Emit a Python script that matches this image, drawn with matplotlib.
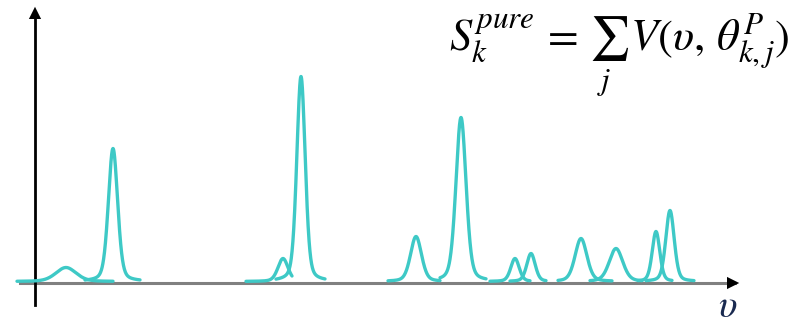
import numpy as np
import matplotlib.pyplot as plt

# Peak data (position on the wavenumber axis, height, width, drawn range)
centers = [66, 113, 283, 301, 416, 461, 515, 531, 581, 616, 656, 670]
heights = [14, 133, 23, 205, 45, 164, 23, 28, 43, 33, 50, 71]
widths = [24, 11, 12, 10, 13, 12, 10, 10, 14, 16, 9, 10]
left_ends = [17, 85, 246, 276, 388, 440, 490, 510, 558, 590, 638, 646]
right_ends = [113, 140, 292, 325, 440, 486, 530, 546, 612, 642, 672, 694]

formula = r'$S_k^{pure}\,=\,\sum_j\, V(\upsilon,\,\theta_{k,j}^P)$'
x_label = r'$\upsilon$'

plt.rcParams['mathtext.fontset'] = 'stix'

fig = plt.figure(figsize=(8.0, 3.26), dpi=100, facecolor='white')
ax = fig.add_axes([0, 0, 1, 1])
ax.set_xlim(0, 800)
ax.set_ylim(-43, 283)
ax.axis('off')


def pseudo_voigt(x, c, h, w, eta=0.3):
    g = np.exp(-4 * np.log(2) * ((x - c) / w) ** 2)
    l = 1.0 / (1 + 4 * ((x - c) / w) ** 2)
    return h * ((1 - eta) * g + eta * l)


# Axes with arrows
ax.plot([20, 735], [0, 0], color='#808080', lw=2.2, zorder=1)
ax.annotate('', xy=(742, 0), xytext=(725, 0),
            arrowprops=dict(arrowstyle='-|>', color='black', lw=0,
                            mutation_scale=22))
ax.plot([35, 35], [-22, 265], color='black', lw=2.0, zorder=1)
ax.annotate('', xy=(35, 279), xytext=(35, 262),
            arrowprops=dict(arrowstyle='-|>', color='black', lw=0,
                            mutation_scale=22))

# Peaks
for c, h, w, a, b in zip(centers, heights, widths, left_ends, right_ends):
    x = np.linspace(a, b, 300)
    y = pseudo_voigt(x, c, h, w) + 1.5
    ax.plot(x, y, color='#3ec9c6', lw=2.4, zorder=2, solid_capstyle='round')

ax.text(790, 228, formula, fontsize=32, ha='right', va='center')
ax.text(728, -34, x_label, fontsize=28, ha='center', va='baseline',
        color='#1a2a50')

fig.savefig('out.png', dpi=100, facecolor='white')
